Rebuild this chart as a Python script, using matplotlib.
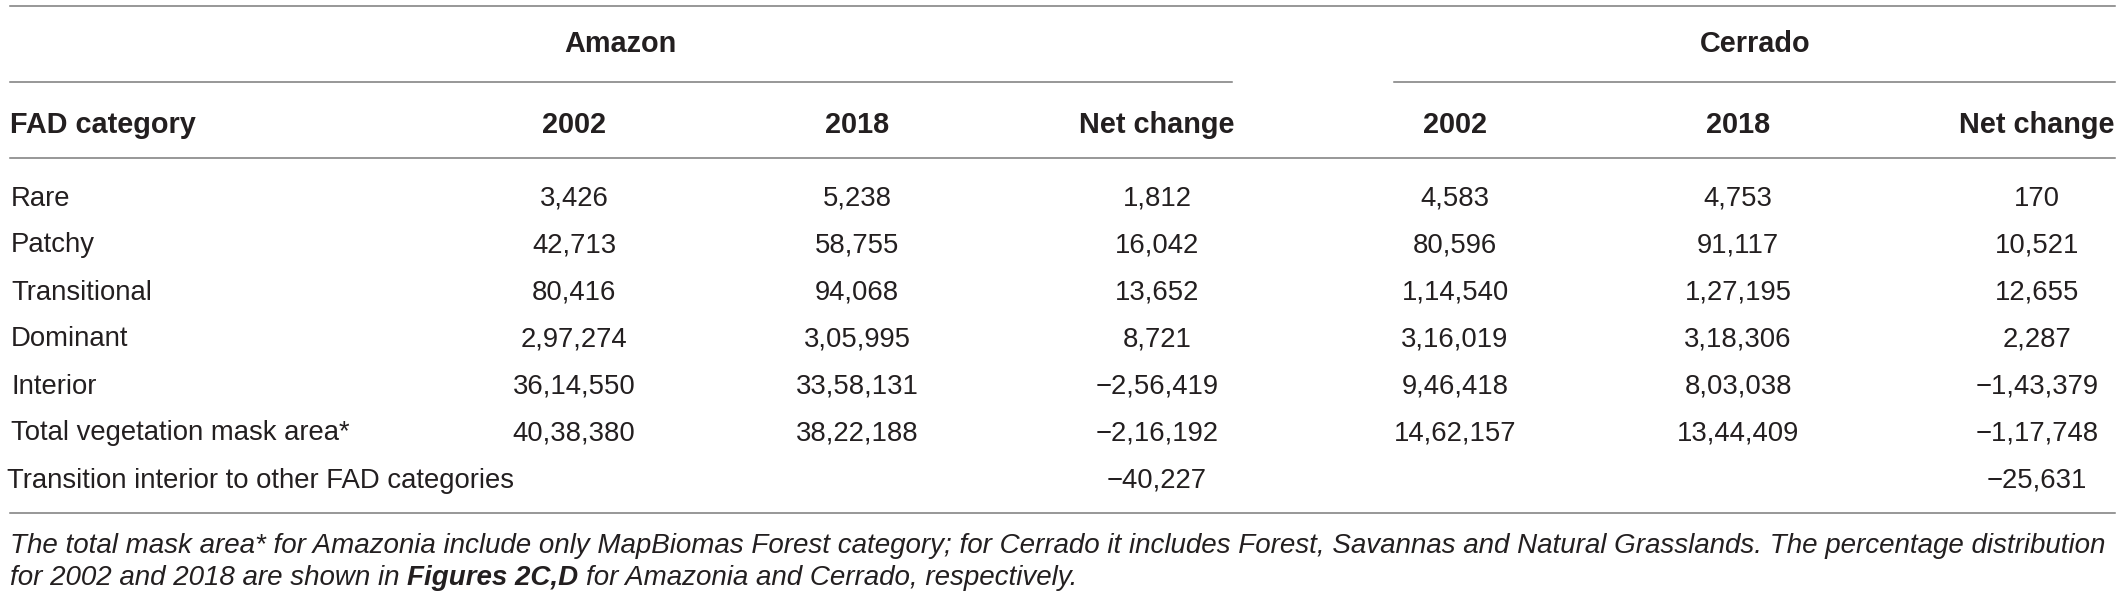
import matplotlib
matplotlib.use("Agg")
import matplotlib.pyplot as plt

plt.rcParams['font.family'] = ['Liberation Sans', 'DejaVu Sans']

# table content
groups = ["Amazon", "Cerrado"]
col_heads = ["2002", "2018", "Net change"]
row_label_head = "FAD category"
categories = ["Rare", "Patchy", "Transitional", "Dominant", "Interior",
              "Total vegetation mask area*"]
amazon_2002 = [3426, 42713, 80416, 297274, 3614550, 4038380]
amazon_2018 = [5238, 58755, 94068, 305995, 3358131, 3822188]
amazon_net = [1812, 16042, 13652, 8721, -256419, -216192]
cerrado_2002 = [4583, 80596, 114540, 316019, 946418, 1462157]
cerrado_2018 = [4753, 91117, 127195, 318306, 803038, 1344409]
cerrado_net = [170, 10521, 12655, 2287, -143379, -117748]
transition_label = "Transition interior to other FAD categories"
transition_amazon = -40227
transition_cerrado = -25631

foot_line1 = ("The total mask area* for Amazonia include only MapBiomas Forest category; "
              "for Cerrado it includes Forest, Savannas and Natural Grasslands. "
              "The percentage distribution")
foot_line2 = ["for 2002 and 2018 are shown in", "Figures 2C,D",
              "for Amazonia and Cerrado, respectively."]


def indian(n):
    # lakh style grouping: 36,14,550
    s = str(abs(n))
    if len(s) > 3:
        head, tail = s[:-3], s[-3:]
        parts = []
        while len(head) > 2:
            parts.insert(0, head[-2:])
            head = head[:-2]
        if head:
            parts.insert(0, head)
        s = ",".join(parts + [tail])
    return ("\u2212" if n < 0 else "") + s


TXT = '#231f20'
LINE = '#7a7a7a'
FS = 19.8
FSB = 20.8

fig = plt.figure(figsize=(21.22, 5.99), dpi=100)
ax = fig.add_axes([0, 0, 1, 1])
ax.set_xlim(0, 2122)
ax.set_ylim(599, 0)
ax.axis("off")

# rules
lw = 1.1
ax.plot([10, 2115], [6, 6], color=LINE, lw=lw)
ax.plot([10, 1232], [82, 82], color=LINE, lw=lw)
ax.plot([1394, 2115], [82, 82], color=LINE, lw=lw)
ax.plot([10, 2115], [158, 158], color=LINE, lw=lw)
ax.plot([10, 2115], [513, 513], color=LINE, lw=lw)

# group headers
group_x = [620, 1755]
for g, x in zip(groups, group_x):
    ax.text(x, 52.5, g, ha='center', va='baseline', fontsize=FSB,
            fontweight='bold', color=TXT)

# column headers
col_x = [574, 857, 1157, 1455, 1738, 2037]
ax.text(10, 133, row_label_head, ha='left', va='baseline', fontsize=FSB,
        fontweight='bold', color=TXT)
for i, x in enumerate(col_x):
    ax.text(x, 133, col_heads[i % 3], ha='center', va='baseline',
            fontsize=FSB, fontweight='bold', color=TXT)

# body rows
columns = [amazon_2002, amazon_2018, amazon_net,
           cerrado_2002, cerrado_2018, cerrado_net]
y0 = 205.5
dy = 47
for r, cat in enumerate(categories):
    y = y0 + r * dy
    ax.text(11, y, cat, ha='left', va='baseline', fontsize=FS, color=TXT)
    for c, x in enumerate(col_x):
        ax.text(x, y, indian(columns[c][r]), ha='center', va='baseline',
                fontsize=FS, color=TXT)

y = y0 + len(categories) * dy
ax.text(7, y, transition_label, ha='left', va='baseline', fontsize=FS, color=TXT)
ax.text(col_x[2], y, indian(transition_amazon), ha='center', va='baseline',
        fontsize=FS, color=TXT)
ax.text(col_x[5], y, indian(transition_cerrado), ha='center', va='baseline',
        fontsize=FS, color=TXT)

# footnote, first line stretched to the table width
fig.canvas.draw()
renderer = fig.canvas.get_renderer()
t1 = ax.text(10, 553, foot_line1, ha='left', va='baseline', fontsize=FS,
             style='italic', color=TXT)
w = t1.get_window_extent(renderer).width
ffs = FS * 2090 / w
t1.set_fontsize(ffs)

space = 0.278 * ffs * 100 / 72
x = 10
for k, piece in enumerate(foot_line2):
    weight = 'bold' if k == 1 else 'normal'
    t = ax.text(x, 585, piece, ha='left', va='baseline', fontsize=ffs,
                style='italic', fontweight=weight, color=TXT)
    x += t.get_window_extent(renderer).width + space

fig.savefig("out.png", dpi=100)
